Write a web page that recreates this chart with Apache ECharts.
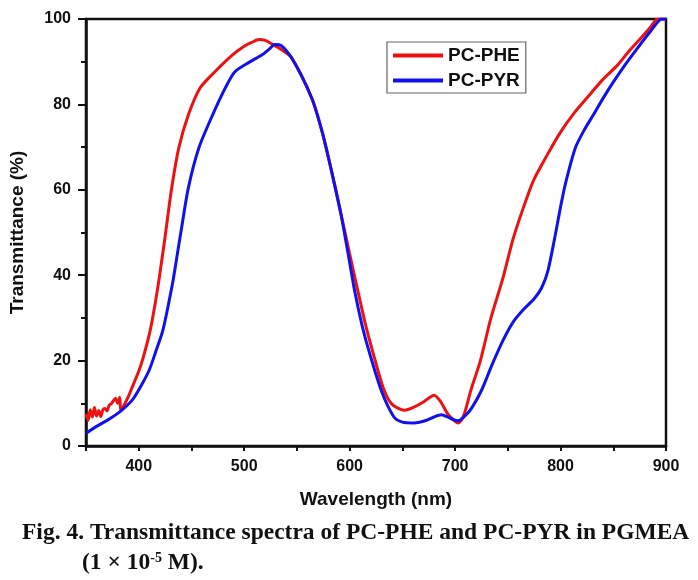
<!DOCTYPE html>
<html>
<head>
<meta charset="utf-8">
<script src="https://cdn.jsdelivr.net/npm/echarts@6/dist/echarts.min.js"></script>
<style>
html,body{margin:0;padding:0;background:#fff;}
#chart{width:698px;height:580px;}
</style>
</head>
<body>
<div id="chart"></div>
<script>
// Data
var seriesNames = ['PC-PHE', 'PC-PYR'];
var pheWavelength = [350,352,354,356,358,360,362,364,366,368,370,372,374,376,378,380,382,383,386,390,395,400,404,411,418,425,431,438,447,458,472,489,500,507,514,520,526,533,545,564,574,583,592,600,609,615,622,632,640,652,660,670,680,686,693,700,703,708,715,724,734,745,755,765,774,787,800,813,826,840,854,865,876,885,892,900];
var pheTransmittance = [7.5,6,8.5,6.8,9,7,8.3,6.9,8.5,8.8,8.2,9.6,9.9,10.6,11.2,10,11.4,8.2,9.5,11.5,14.5,17.5,20.5,27.2,37,49,60,69.8,77.5,83.8,87.6,91.6,93.6,94.5,95.2,95,94.2,93.2,90.9,81.5,73.5,64.2,54.1,45,35,28.5,22,13.5,9.8,8.4,9,10.3,11.9,10.5,7.5,5.8,5.4,7,13.1,20,30,39,48.5,56,62,68,73.5,78,81.8,85.8,89.2,92.5,95.5,98,100,100];
var pyrWavelength = [350,360,370,382,394,402,410,416,423,432,436,440,447,457,470,482,491,505,517,524,529,535,545,564,574,583,592,600,605,612,618,630,642,650,661,670,680,687,693,698,703,710,716,725,735,745,755,765,775,782,788,795,800,805,814,822,831,840,850,861,873,885,896,900];
var pyrTransmittance = [3,4.6,6,8,10.8,14,17.8,22,27.2,38,44,50.1,60.4,69.8,77.5,83.8,87.6,89.9,91.6,93,94,93.8,90.9,81.5,73.5,64.2,54,43,36,28,22.5,13,6.8,5.6,5.4,5.8,6.8,7.3,6.8,6.2,5.9,7.2,9,13,19,24.5,29,32,34.5,37,41,49.4,56,61.8,69.8,73.8,77.5,81.3,85.2,89.2,93.2,97,100,100];
var xTicks = [400,500,600,700,800,900];
var yTicks = [0,20,40,60,80,100];

function pairs(xs, ys){ return xs.map(function(x,i){ return [x, ys[i]]; }); }

var chart = echarts.init(document.getElementById('chart'), null, {renderer:'canvas'});
var axisFont = {fontFamily:'Liberation Sans, Arial, sans-serif', fontWeight:'bold', color:'#111'};
chart.setOption({
  animation:false,
  backgroundColor:'#fff',
  grid:{left:83, right:32, top:19, bottom:134, show:true, borderColor:'#111', borderWidth:2.5, backgroundColor:'transparent'},
  legend:{
    orient:'vertical', left:387, top:42,
    data:seriesNames,
    icon:'rect', itemWidth:50, itemHeight:4, itemGap:6,
    borderColor:'#666', borderWidth:1.2, padding:[4,6,3,6],
    textStyle:{fontFamily:'Liberation Sans, Arial, sans-serif', fontWeight:'bold', fontSize:19, color:'#111', padding:[0,0,0,0]}
  },
  xAxis:{
    type:'value', min:350, max:900, interval:50,
    name:'Wavelength (nm)', nameLocation:'middle', nameGap:44,
    nameTextStyle:Object.assign({fontSize:19}, axisFont),
    axisLine:{onZero:false, lineStyle:{color:'#111', width:2.5}},
    axisTick:{show:true, inside:false, length:5, lineStyle:{color:'#111', width:2}},
    axisLabel:Object.assign({fontSize:16, margin:13, formatter:function(v){ return xTicks.indexOf(v) >= 0 ? String(v) : ''; }}, axisFont),
    splitLine:{show:false}
  },
  yAxis:{
    type:'value', min:0, max:100, interval:20,
    name:'Transmittance (%)', nameLocation:'middle', nameGap:59, nameRotate:90,
    nameTextStyle:Object.assign({fontSize:19}, axisFont),
    axisLine:{onZero:false, lineStyle:{color:'#111', width:2.5}},
    axisTick:{show:true, inside:false, length:8, lineStyle:{color:'#111', width:2}},
    minorTick:{show:true, splitNumber:2, length:5, lineStyle:{color:'#111', width:2}},
    axisLabel:Object.assign({fontSize:16, margin:15, formatter:function(v){ return yTicks.indexOf(v) >= 0 ? String(v) : ''; }}, axisFont),
    splitLine:{show:false}
  },
  series:[
    {name:seriesNames[0], type:'line', data:pairs(pheWavelength, pheTransmittance), showSymbol:false, smooth:0.25, lineStyle:{color:'#ee1111', width:3}, itemStyle:{color:'#ee1111'}},
    {name:seriesNames[1], type:'line', data:pairs(pyrWavelength, pyrTransmittance), showSymbol:false, smooth:0.25, lineStyle:{color:'#1111ee', width:3}, itemStyle:{color:'#1111ee'}}
  ],
  graphic:[
    {type:'text', left:22, top:521, style:{text:'Fig. 4. Transmittance spectra of PC-PHE and PC-PYR in PGMEA', font:'bold 23.5px "Liberation Serif", "Times New Roman", serif', fill:'#111'}},
    {type:'text', left:82, top:551, style:{text:'{a|(1 × 10}{s|-5}{a| M).}', rich:{a:{font:'bold 23.5px "Liberation Serif", "Times New Roman", serif', fill:'#111', color:'#111', verticalAlign:'bottom'}, s:{font:'bold 14px "Liberation Serif", "Times New Roman", serif', fill:'#111', color:'#111', verticalAlign:'top', padding:[0,0,10,0]}}}}
  ]
});
</script>
</body>
</html>
